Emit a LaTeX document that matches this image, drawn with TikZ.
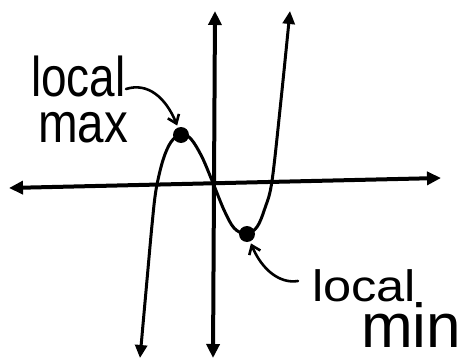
\documentclass[tikz,border=0pt]{standalone}
\usepackage{fontspec}
\usepackage{graphicx}
\setmainfont{Liberation Sans}
\usetikzlibrary{arrows.meta}
\begin{document}
\begin{tikzpicture}[x=1pt,y=-1pt,
  axis/.style={line width=4pt,
    {Triangle[length=14pt,width=13pt]}-{Triangle[length=14pt,width=13pt]}},
  curve/.style={line width=3pt, line join=round,
    {Triangle[length=13pt,width=12pt]}-{Triangle[length=13pt,width=12pt]}},
  pointer/.style={line width=2.6pt, line cap=round,
    -{Straight Barb[length=8pt,width=12pt]}, shorten >=2pt},
  dot/.style={circle, fill=black, inner sep=0pt, minimum size=16pt},
  hand/.style={anchor=north west, inner sep=0pt, align=left}]
\useasboundingbox (0,0) rectangle (469,361);
% axes
\coordinate (xl) at (9,188);
\coordinate (xr) at (441,178);
\coordinate (yt) at (215,11);
\coordinate (yb) at (213,358);
\draw[axis] (xl) -- (xr);
\draw[axis] (yb) -- (yt);
% cubic curve
\draw[curve] plot[smooth, tension=0.55] coordinates {
  (140,358) (147,280) (152,225) (156,190) (163,160) (171,142) (181,134)
  (191,139) (202,157) (213,183) (224,210) (234,228) (246,234)
  (257,227) (265,208) (272,181) (281,100) (290,11)};
% extrema
\node[dot] (max) at (181,135) {};
\node[dot] (min) at (247,234) {};
% labels
\node[hand, font=\fontsize{40}{46}\selectfont] (maxlab) at (31,56)
  {\scalebox{1.148}[1.4]{local}\\\hspace*{7pt}\scalebox{1.19}[1.4]{max}};
\node[hand, font=\fontsize{32}{45}\selectfont] (minlab) at (312,269.5)
  {\scalebox{1.58}[1.375]{local}\\\hspace*{49pt}\scalebox{1.94}{min}};
% pointers
\coordinate (amax) at (126,89);
\coordinate (amin) at (298,281);
\draw[pointer] (amax) .. controls (148,82) and (166,98) .. (max);
\draw[pointer] (amin) .. controls (280,284) and (262,270) .. (min);
\end{tikzpicture}
\end{document}
